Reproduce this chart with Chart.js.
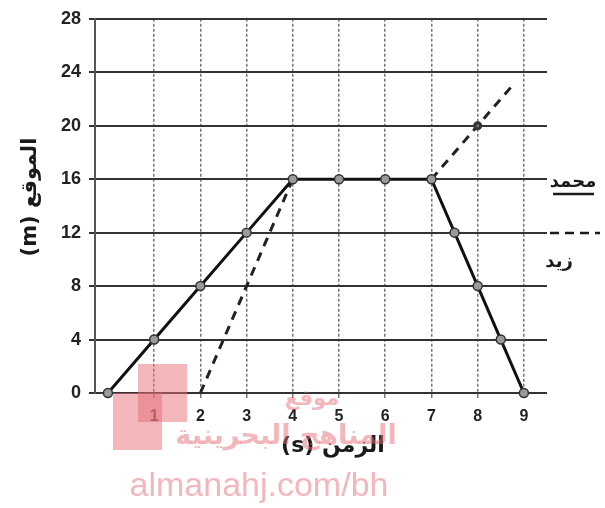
<!DOCTYPE html>
<html>
<head>
<meta charset="utf-8">
<script src="https://cdn.jsdelivr.net/npm/chart.js@4"></script>
<style>
  html, body { margin: 0; padding: 0; background: #fff; }
  #wrap { position: relative; width: 605px; height: 508px; }
</style>
</head>
<body>
<div id="wrap"><canvas id="posChart" width="605" height="508"></canvas></div>
<script>
// time (s) and position (m)
const times = [0, 1, 2, 3, 4, 5, 6, 7, 7.5, 8, 8.5, 9];
const mohammedPos = [0, 4, 8, 12, 16, 16, 16, 16, 12, 8, 4, 0];

// dashed runner: a gap (null) splits the two dashed pieces
const zaidTimes = [2, 3, 4, 5.5, 7, 8, 8.8];
const zaidPos = [0, 8, 16, null, 16, 20, 23.2];
const zaidDots = [0, 0, 0, 0, 0, 3, 0];

const xTicks = [0, 1, 2, 3, 4, 5, 6, 7, 8, 9];
const yTicks = [0, 4, 8, 12, 16, 20, 24, 28];

const yTitle = "الموقع (m)";
const xTitle = "الزمن (s)";
const legendNames = ["محمد", "زيد"];

const pink = "rgba(230, 110, 120, 0.5)";

// ----------------- titles, legend, watermark -----------------
const extras = {
  id: "extras",
  afterDraw(chart) {
    const ctx = chart.ctx;
    ctx.save();
    ctx.fillStyle = "#1a1a1a";
    ctx.strokeStyle = "#1a1a1a";
    ctx.direction = "rtl";
    ctx.textAlign = "center";
    ctx.textBaseline = "middle";

    // y title, rotated
    ctx.save();
    ctx.translate(31, 197);
    ctx.rotate(-Math.PI / 2);
    ctx.font = "bold 21px 'DejaVu Sans'";
    ctx.fillText(yTitle, 0, 0);
    ctx.restore();

    // x title
    ctx.font = "bold 22px 'DejaVu Sans'";
    ctx.fillText(xTitle, 333, 446);

    // legend on the right
    ctx.font = "bold 18px 'DejaVu Sans'";
    ctx.fillText(legendNames[0], 573, 182);
    ctx.lineWidth = 2.5;
    ctx.beginPath();
    ctx.moveTo(553, 194);
    ctx.lineTo(594, 194);
    ctx.stroke();

    ctx.setLineDash([9, 6]);
    ctx.beginPath();
    ctx.moveTo(550, 233);
    ctx.lineTo(600, 233);
    ctx.stroke();
    ctx.setLineDash([]);
    ctx.fillText(legendNames[1], 559, 262);

    // watermark
    ctx.fillStyle = pink;
    ctx.fillRect(138, 364, 49, 58);
    ctx.fillRect(113, 393, 49, 57);
    ctx.font = "bold 21px 'DejaVu Sans'";
    ctx.fillText("موقع", 312, 400);
    ctx.font = "bold 27px 'DejaVu Sans'";
    ctx.fillText("المناهج البحرينية", 286, 437);
    ctx.direction = "ltr";
    ctx.font = "34px 'Liberation Sans'";
    ctx.fillText("almanahj.com/bh", 259, 487);
    ctx.restore();
  }
};

const ctx = document.getElementById("posChart").getContext("2d");

new Chart(ctx, {
  type: "line",
  data: {
    datasets: [
      {
        label: legendNames[0],
        data: times.map((t, i) => ({ x: t, y: mohammedPos[i] })),
        borderColor: "#111",
        borderWidth: 3,
        pointRadius: 4.5,
        pointBackgroundColor: "#9a9a9a",
        pointBorderColor: "#333",
        pointBorderWidth: 1.5,
        tension: 0
      },
      {
        label: legendNames[1],
        data: zaidTimes.map((t, i) => ({ x: t, y: zaidPos[i] })),
        borderColor: "#222",
        borderWidth: 3,
        borderDash: [9, 7],
        pointRadius: zaidDots,
        pointBackgroundColor: "#777",
        pointBorderColor: "#333",
        spanGaps: false,
        tension: 0
      }
    ]
  },
  options: {
    responsive: false,
    animation: false,
    devicePixelRatio: 1,
    clip: false,
    layout: { padding: { top: 10, right: 58, left: 0, bottom: 0 } },
    plugins: { legend: { display: false }, tooltip: { enabled: false } },
    scales: {
      x: {
        type: "linear",
        min: -0.28,
        max: 9.5,
        afterBuildTicks: s => { s.ticks = xTicks.map(v => ({ value: v })); },
        afterFit: s => { s.height = 115; },
        ticks: {
          callback: v => (v === 0 ? "" : v),
          color: "#222",
          padding: 9,
          font: { family: "Liberation Sans", size: 16, weight: "bold" }
        },
        grid: {
          color: c => (c.tick && c.tick.value === 0 ? "rgba(0,0,0,0)" : "#777"),
          lineWidth: 1.5,
          tickLength: 5
        },
        border: { display: false, dash: [3, 2] }
      },
      y: {
        min: 0,
        max: 28,
        afterBuildTicks: s => { s.ticks = yTicks.map(v => ({ value: v })); },
        afterFit: s => { s.width = 95; },
        ticks: {
          color: "#222",
          padding: 8,
          font: { family: "Liberation Sans", size: 18, weight: "bold" }
        },
        grid: { color: "#333", lineWidth: 2, tickLength: 6 },
        border: { display: true, color: "#555", width: 2 }
      }
    }
  },
  plugins: [extras]
});
</script>
</body>
</html>
